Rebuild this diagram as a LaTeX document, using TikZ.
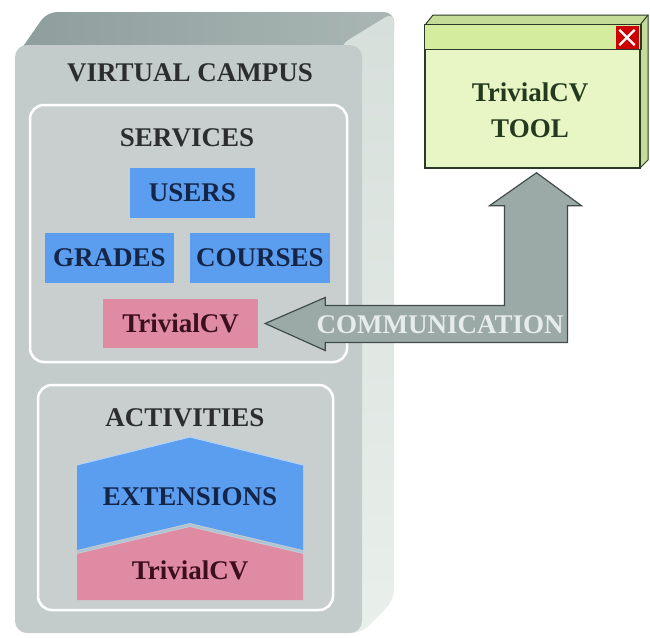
\documentclass[tikz,border=0pt]{standalone}
\usepackage{fontspec}
\setmainfont{Liberation Serif}
\usetikzlibrary{calc,positioning}

\definecolor{frontgray}{HTML}{C4CCCB}
\definecolor{panelgray}{HTML}{C9CFCF}
\definecolor{topgray}{HTML}{8E9E9C}
\definecolor{sidegray}{HTML}{E9EFEB}
\definecolor{cvblue}{HTML}{5B9EF0}
\definecolor{cvpink}{HTML}{DF8BA3}
\definecolor{navytext}{HTML}{142548}
\definecolor{maroontext}{HTML}{3C0F1E}
\definecolor{titlegray}{HTML}{2C2E2E}
\definecolor{winfill}{HTML}{E8F5C4}
\definecolor{winbar}{HTML}{D3EC9E}
\definecolor{winside}{HTML}{C5DB98}
\definecolor{winline}{HTML}{2B3A28}
\definecolor{wintext}{HTML}{243A1E}
\definecolor{arrowgray}{HTML}{9BA9A7}
\definecolor{arrowline}{HTML}{3F4C4A}
\definecolor{commtext}{HTML}{E6ECEA}

\begin{document}
\begin{tikzpicture}[x=1pt,y=-1pt,
    bigfont/.style={font=\fontsize{27}{30}\selectfont\bfseries},
    title/.style={bigfont, text=titlegray},
    panel/.style={draw=white, line width=2.5pt, fill=panelgray, rounded corners=14pt, inner sep=0pt},
    service/.style={bigfont, fill=cvblue, text=navytext, minimum height=50pt, inner sep=0pt},
    pinkbox/.style={bigfont, fill=cvpink, text=maroontext, minimum height=49pt, inner sep=0pt},
    toolwin/.style={draw=winline, line width=1.5pt, fill=winfill, inner sep=0pt},
    commarrow/.style={fill=arrowgray, draw=arrowline, line width=1.2pt, line join=miter}]

  \useasboundingbox (0,0) rectangle (650,637);

  % campus block
  \shade[left color=topgray, right color=topgray!70!sidegray, rounded corners=10pt]
    (15,58) -- (47,12) -- (394,12) -- (394,40) -- (362,70) -- cycle;
  \shade[top color=sidegray!80!topgray, bottom color=sidegray, rounded corners=10pt]
    (340,45) -- (394,12) -- (394,600) -- (362,633) -- (340,633) -- cycle;
  \node[fill=frontgray, rounded corners=12pt, minimum width=347pt, minimum height=588pt,
    inner sep=0pt] (campus) at (188.5,339) {};
  \node[title] (vcampus) at (190,73) {VIRTUAL CAMPUS};

  % services
  \node[panel, minimum width=317pt, minimum height=257pt] (services) at (188.5,233.5) {};
  \node[title] (stitle) at (187,138) {SERVICES};
  \node[service, minimum width=125pt] (users) at (192.5,193) {USERS};
  \node[service, minimum width=129pt] (grades) at (109.5,258) {GRADES};
  \node[service, minimum width=140pt] (courses) at (260,258) {COURSES};
  \node[pinkbox, minimum width=155pt] (tvs) at (180.5,323.5) {TrivialCV};

  % activities
  \node[panel, minimum width=295pt, minimum height=225pt] (activities) at (185.5,497.5) {};
  \node[title] (atitle) at (185,418) {ACTIVITIES};
  \fill[cvblue] (77,465) -- (190,437) -- (303,465) -- (303,550) -- (190,523) -- (77,550) -- cycle;
  \draw[cvblue!45!white, line width=1pt] (77,465) -- (190,437) -- (303,465);
  \fill[cvpink] (77,554) -- (190,527) -- (303,554) -- (303,600) -- (77,600) -- cycle;
  \draw[cvblue!25!panelgray, line width=2pt] (77,552) -- (190,525) -- (303,552);
  \node[bigfont, text=navytext] (ext) at (190,497) {EXTENSIONS};
  \node[bigfont, text=maroontext] (tva) at (190,570) {TrivialCV};

  % tool window
  \fill[winside, draw=winline, line width=1pt] (425,25) -- (433,15) -- (648,15) -- (648,160) -- (640,168) -- cycle;
  \node[toolwin, minimum width=215pt, minimum height=143pt] (tool) at (532.5,96.5) {};
  \draw[winline, line width=1pt] (640,25) -- (648,15);
  \fill[winbar, draw=winline, line width=1.5pt] (tool.north west) rectangle ($(tool.north east)+(0,25)$);
  \node[fill=red!80!black, minimum size=23pt, inner sep=0pt] (close) at (627,37.5) {};
  \draw[white, line width=2.2pt] ($(close.north west)+(4,4)$) -- ($(close.south east)+(-4,-4)$)
    ($(close.north east)+(-4,4)$) -- ($(close.south west)+(4,-4)$);
  \node[bigfont, text=wintext, align=center, font=\fontsize{27}{36}\selectfont\bfseries]
    (tooltext) at (530,110) {TrivialCV\\TOOL};

  % communication arrow
  \coordinate (l) at ($(tvs.east)+(7,0)$);
  \coordinate (u) at ($(tool.south)+(4,4)$);
  \coordinate (k) at (u |- l);
  \draw[commarrow] (l) -- ($(l)+(60,-26)$) -- ($(l)+(60,-18)$) -- ($(k)+(-32,-18)$)
    -- ($(u)+(-32,33)$) -- ($(u)+(-47,33)$) -- (u) -- ($(u)+(45,33)$) -- ($(u)+(31,33)$)
    -- ($(k)+(31,19)$) -- ($(l)+(60,19)$) -- ($(l)+(60,27)$) -- cycle;
  \node[bigfont, text=commtext] (comm) at ($(l)+(175,1)$) {COMMUNICATION};
\end{tikzpicture}
\end{document}
